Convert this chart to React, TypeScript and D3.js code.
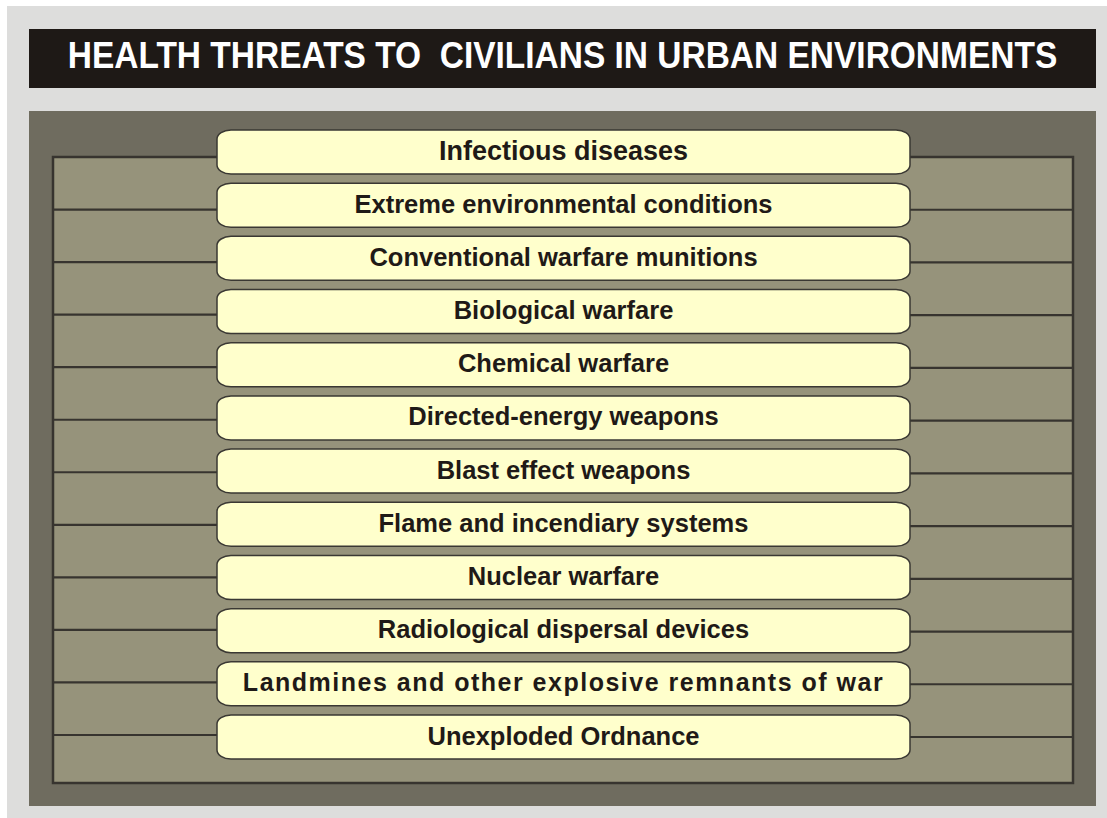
import React from 'react'
import * as d3 from 'd3'

const title = 'HEALTH THREATS TO\u00a0 CIVILIANS IN URBAN ENVIRONMENTS'

const threats = [
  'Infectious diseases',
  'Extreme environmental conditions',
  'Conventional warfare munitions',
  'Biological warfare',
  'Chemical warfare',
  'Directed-energy weapons',
  'Blast effect weapons',
  'Flame and incendiary systems',
  'Nuclear warfare',
  'Radiological dispersal devices',
  'Landmines and other explosive remnants of war',
  'Unexploded Ordnance',
]

// a couple of labels were set differently in the original slide
const labelStyle: Record<string, {size: number; spacing: number}> = {
  'Infectious diseases': {size: 27, spacing: 0},
  'Landmines and other explosive remnants of war': {size: 25, spacing: 1.5},
}

const W = 1107
const H = 818
const font = '"Liberation Sans", Arial, Helvetica, sans-serif'

const App = () => {
  const last = threats.length - 1
  // row index -> top of box, and -> connector line y (left / right side)
  const boxY = d3.scaleLinear().domain([0, last]).range([130, 715])
  const leftLineY = d3.scaleLinear().domain([0, last]).range([157, 735])
  const rightLineY = d3.scaleLinear().domain([0, last]).range([157, 737])
  const boxH = 44
  const boxX0 = 217
  const boxX1 = 910
  const frame = {x0: 53, y0: 157, x1: 1073, y1: 783}

  return (
    <svg
      width={W}
      height={H}
      style={{position: 'absolute', left: 0, top: 0}}
      fontFamily={font}
    >
      <rect x={0} y={0} width={W} height={H} fill="#ffffff" />
      <rect x={7} y={6} width={W - 7} height={H - 6} fill="#dddddc" />

      {/* title bar */}
      <rect x={29} y={29} width={1067} height={59} fill="#1e1916" />
      <text
        transform="translate(562.5,68) scale(1,1.09)"
        textAnchor="middle"
        fill="#ffffff"
        fontSize={33.5}
        fontWeight="bold"
      >
        {title}
      </text>

      {/* panel */}
      <rect x={29} y={111} width={1067} height={695} fill="#6f6c5f" />
      <rect
        x={frame.x0}
        y={frame.y0}
        width={frame.x1 - frame.x0}
        height={frame.y1 - frame.y0}
        fill="#96937b"
        stroke="#37342f"
        strokeWidth={2.5}
      />

      {/* connector lines */}
      <g stroke="#37342f" strokeWidth={2.2}>
        {threats.map((d, i) => (
          <g key={d}>
            <line x1={frame.x0} x2={boxX0 + 2} y1={leftLineY(i)} y2={leftLineY(i)} />
            <line x1={boxX1 - 2} x2={frame.x1} y1={rightLineY(i)} y2={rightLineY(i)} />
          </g>
        ))}
      </g>

      {/* threat boxes */}
      {threats.map((d, i) => {
        const st = labelStyle[d] || {size: 25.5, spacing: 0}
        return (
          <g key={d} transform={`translate(0,${boxY(i)})`}>
            <rect
              x={boxX0}
              y={0}
              width={boxX1 - boxX0}
              height={boxH}
              rx={14}
              ry={9}
              fill="#ffffcc"
              stroke="#3a3833"
              strokeWidth={1.5}
            />
            <text
              x={(boxX0 + boxX1) / 2}
              y={st.size > 26 ? 30 : 29.5}
              textAnchor="middle"
              fontSize={st.size}
              fontWeight="bold"
              letterSpacing={st.spacing}
              fill="#1f1a17"
            >
              {d}
            </text>
          </g>
        )
      })}
    </svg>
  )
}

export default App
